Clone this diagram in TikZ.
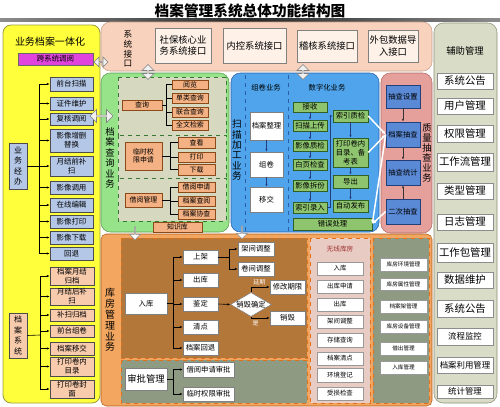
\documentclass[tikz,border=0pt]{standalone}
\usepackage{fontspec}
\setmainfont{Noto Sans CJK SC}
\usetikzlibrary{arrows.meta,shapes.geometric,shapes.arrows}
\lineskiplimit=-100pt
\lineskip=0pt
\definecolor{cYel}{HTML}{FFFF3C}
\definecolor{cYelD}{HTML}{9C9C3C}
\definecolor{cMag}{HTML}{E044DC}
\definecolor{cLB}{HTML}{B4C7E7}
\definecolor{cLO}{HTML}{F8CBAD}
\definecolor{cPeach}{HTML}{F8D2BC}
\definecolor{cPeachD}{HTML}{C8A08C}
\definecolor{cPbox}{HTML}{FDF1E8}
\definecolor{cAux}{HTML}{D9DCC6}
\definecolor{cAuxD}{HTML}{8E9078}
\definecolor{cGreen}{HTML}{96E38A}
\definecolor{cGreenD}{HTML}{5A9A50}
\definecolor{cBeige}{HTML}{D7D8C0}
\definecolor{cDG}{HTML}{3A783A}
\definecolor{cOr}{HTML}{F4B183}
\definecolor{cOrD}{HTML}{8A4A1A}
\definecolor{cBlue}{HTML}{4FA4EC}
\definecolor{cBlueD}{HTML}{2A5FA8}
\definecolor{cGB}{HTML}{8EC46E}
\definecolor{cGBD}{HTML}{2F5F22}
\definecolor{cQ}{HTML}{E6A09C}
\definecolor{cQD}{HTML}{B06A66}
\definecolor{cQB}{HTML}{5A8AD6}
\definecolor{cQBD}{HTML}{223F7A}
\definecolor{cOrg}{HTML}{F2A660}
\definecolor{cDash}{HTML}{E0701C}
\definecolor{cBrown}{HTML}{B4773A}
\definecolor{cGG}{HTML}{8E9A82}
\definecolor{cPink}{HTML}{E8CBC3}
\definecolor{cRed}{HTML}{A03030}
\newcommand{\bx}[7]{\node[#6,minimum width={(#4-#2)*0.75pt},minimum height={(#5-#3)*0.75pt}] (#1) at ({(#2+#4)/2},{(#3+#5)/2}) {#7};}
\tikzset{
 box/.style={draw, inner sep=0pt, align=center, line width=0.4pt, text=black},
 lb/.style={box, fill=cLB, draw=black!70, font=\fontsize{5.6}{6.6}\selectfont},
 lo/.style={box, fill=cLO, draw=black!70, font=\fontsize{5.6}{6.6}\selectfont},
 pb/.style={box, fill=cPbox, draw=black!50, font=\fontsize{7}{8.6}\selectfont},
 ab/.style={box, fill=white, draw=black!45, font=\fontsize{7.8}{9}\selectfont},
 abs/.style={ab, font=\fontsize{6.3}{7.5}\selectfont},
 ob/.style={box, fill=cOr, draw=cOrD, font=\fontsize{5.2}{6.2}\selectfont},
 gb/.style={box, fill=cGB, draw=cGBD, font=\fontsize{5.5}{6.6}\selectfont},
 wb/.style={box, fill=white, draw=black!50, font=\fontsize{5.5}{6.6}\selectfont},
 qb/.style={box, fill=cQB, draw=cQBD, font=\fontsize{5.5}{6.6}\selectfont},
 pkb/.style={box, fill=white, draw=black!40, font=\fontsize{4.8}{5.8}\selectfont},
 gyb/.style={box, fill=white, draw=black!40, font=\fontsize{4.2}{5}\selectfont},
 vt/.style={inner sep=0pt, align=center},
 arr/.style={-{Latex[length=2.2pt,width=1.8pt]}, line width=0.45pt},
 ln/.style={line width=0.45pt},
 warr/.style={white, line width=1.1pt, -{Latex[length=3pt,width=2.6pt]}},
 dbl/.style={double arrow, draw=black!50, fill=black!6, inner sep=0pt, double arrow head extend=1.2pt},
 darr/.style={single arrow, draw=black!45, fill=white, inner sep=0pt, single arrow head extend=1.5pt},
 wlab/.style={text=white, inner sep=0pt, font=\fontsize{4.5}{5}\selectfont}
}
\begin{document}
\begin{tikzpicture}[x=0.75pt,y=-0.75pt]
\useasboundingbox (0,0) rectangle (500,407);
\fill[white] (0,0) rectangle (500,407);
% title
\node[font=\fontsize{11}{13}\selectfont\bfseries] (title) at (250,10.5) {档案管理系统总体功能结构图};
\shade[left color=black!45, right color=black!45, middle color=black!85] (0,18.5) rectangle (500,21.5);
% panels
\draw[cYelD, fill=cYel, rounded corners=6pt, line width=0.6pt] (3,25) rectangle (100,403);
\draw[cPeachD, fill=cPeach, rounded corners=7pt] (101,22) rectangle (432,71);
\draw[cAuxD, fill=cAux, rounded corners=7pt] (434,23) rectangle (497,403);
\draw[cGreenD, fill=cGreen, rounded corners=7pt] (101,73) rectangle (229,232);
\draw[cBlueD, fill=cBlue, rounded corners=7pt] (231,73) rectangle (379,232);
\draw[cQD, fill=cQ, rounded corners=7pt] (381,73) rectangle (432,233);
\draw[cDash!80!black, fill=cOrg, rounded corners=4pt] (101,234) rectangle (432,406);
\draw[cDash, dashed, fill=cBrown] (121,238) rectangle (307,358);
\draw[cDash, dashed, fill=cGG] (121,360) rectangle (307,403);
\draw[cDash, dashed, fill=cPink] (310,238) rectangle (370,403);
\draw[cDash, dashed, fill=cGG] (373,238) rectangle (429,403);
\draw[cDG, dashed, fill=cBeige] (118,77) rectangle (226,135);
\draw[cDG, dashed, fill=cBeige] (118,135) rectangle (226,178);
\draw[cDG, dashed, fill=cBeige] (118,178) rectangle (226,221);
\draw[cBlueD, dashed, line width=0.6pt] (245,75) -- (245,231);
\draw[cBlueD, dashed, line width=0.6pt] (288,75) -- (288,231);

% ---------- left yellow panel
\node[font=\fontsize{7.5}{9}\selectfont] (ytitle) at (50,42) {业务档案一体化};
\bx{kxt}{18}{53}{93}{65}{box, fill=cMag, draw=black!60, font=\fontsize{5.6}{6.6}\selectfont}{跨系统调阅}
\bx{a1}{50}{77}{93}{91}{lb}{前台扫描}
\bx{a2}{50}{97}{93}{110}{lb}{证件维护}
\bx{a3}{50}{113}{93}{125}{lb}{复核调阅}
\bx{a4}{50}{129}{93}{152}{lb}{影像增删\\替换}
\bx{a5}{50}{156}{93}{176}{lb}{月结前补\\扫}
\bx{a6}{50}{181}{93}{194}{lb}{影像调用}
\bx{a7}{50}{198}{93}{212}{lb}{在线编辑}
\bx{a8}{50}{215}{93}{228}{lb}{影像打印}
\bx{a9}{50}{231}{93}{244}{lb}{影像下载}
\bx{a10}{50}{247}{93}{260}{lb}{回退}
\bx{yj}{9}{143}{27}{189}{lb,font=\fontsize{6}{7.8}\selectfont}{业\\务\\经\\办}
\bx{b1}{50}{267}{94}{285}{lo}{档案月结\\归档}
\bx{b2}{50}{288}{94}{305}{lo}{月结后补\\扫}
\bx{b3}{50}{309}{94}{321}{lo}{补扫归档}
\bx{b4}{50}{325}{94}{337}{lo}{前台组卷}
\bx{b5}{50}{342}{94}{355}{lo}{档案移交}
\bx{b6}{50}{357}{94}{376}{lo}{打印卷内\\目录}
\bx{b7}{50}{380}{94}{398}{lo}{打印卷封\\面}
\bx{dx}{9}{313}{27}{358}{lo,font=\fontsize{6}{7.8}\selectfont}{档\\案\\系\\统}
\coordinate (t1) at (39,166);
\draw[ln] (yj.east) -- (t1);
\draw[ln] (t1 |- a1.west) -- (t1 |- a10.west);
\foreach \i in {1,...,10} \draw[arr] (t1 |- a\i.west) -- (a\i.west);
\coordinate (t2) at (40,335);
\draw[ln] (dx.east) -- (t2);
\draw[ln] (t2 |- b1.west) -- (t2 |- b7.west);
\foreach \i in {1,...,7} \draw[arr] (t2 |- b\i.west) -- (b\i.west);

% ---------- top interfaces
\node[vt, font=\fontsize{6.5}{7.2}\selectfont] (xtjk) at (128,49) {系\\统\\接\\口};
\bx{p1}{155}{28}{211}{63}{pb}{社保核心业\\务系统接口}
\bx{p2}{223}{28}{286}{63}{pb}{内控系统接口}
\bx{p3}{297}{30}{357}{62}{pb}{稽核系统接口}
\bx{p4}{368}{30}{418}{62}{pb}{外包数据导\\入接口}

% ---------- right aux panel
\node[font=\fontsize{7}{8}\selectfont] (fz) at (465,51) {辅助管理};
\bx{r1}{437}{73}{493}{89}{ab}{系统公告}
\bx{r2}{437}{98}{493}{114}{ab}{用户管理}
\bx{r3}{437}{125}{493}{142}{ab}{权限管理}
\bx{r4}{437}{153}{493}{171}{ab}{工作流管理}
\bx{r5}{437}{183}{493}{199}{ab}{类型管理}
\bx{r6}{437}{214}{493}{230}{ab}{日志管理}
\bx{r7}{437}{243}{493}{262}{ab}{工作包管理}
\bx{r8}{437}{272}{493}{288}{ab}{数据维护}
\bx{r9}{437}{300}{493}{317}{ab}{系统公告}
\bx{r10}{437}{328}{493}{345}{abs}{流程监控}
\bx{r11}{437}{357}{493}{373}{abs}{档案利用管理}
\bx{r12}{437}{385}{493}{398}{abs}{统计管理}

% ---------- green query panel
\node[vt, font=\fontsize{7}{7.8}\selectfont] (cxyw) at (110,158) {档\\案\\查\\询\\业\\务};
\bx{q0}{122}{100}{162}{110}{ob}{查询}
\bx{q1}{172}{80}{208}{89}{ob}{阅览}
\bx{q2}{172}{93}{208}{103}{ob}{单类查询}
\bx{q3}{172}{107}{208}{117}{ob}{联合查询}
\bx{q4}{172}{120}{208}{130}{ob}{全文检索}
\coordinate (t3) at (166,105);
\draw[ln] (q0.east) -- (t3);
\draw[ln] (t3 |- q1.west) -- (t3 |- q4.west);
\foreach \i in {1,...,4} \draw[ln] (t3 |- q\i.west) -- (q\i.west);
\bx{s0}{125}{142}{162}{170}{ob}{临时权\\限申请}
\bx{s1}{178}{137}{215}{148}{ob}{查看}
\bx{s2}{178}{152}{215}{162}{ob}{打印}
\bx{s3}{178}{164}{215}{175}{ob}{下载}
\coordinate (t4) at (170,156);
\draw[ln] (s0.east) -- (t4);
\draw[ln] (t4 |- s1.west) -- (t4 |- s3.west);
\foreach \i in {1,...,3} \draw[ln] (t4 |- s\i.west) -- (s\i.west);
\bx{u0}{125}{193}{162}{207}{ob}{借阅管理}
\bx{u1}{178}{182}{215}{192}{ob}{借阅申请}
\bx{u2}{178}{196}{215}{206}{ob}{档案查阅}
\bx{u3}{178}{209}{215}{219}{ob}{档案协查}
\coordinate (t5) at (170,200);
\draw[ln] (u0.east) -- (t5);
\draw[ln] (t5 |- u1.west) -- (t5 |- u3.west);
\foreach \i in {1,...,3} \draw[ln] (t5 |- u\i.west) -- (u\i.west);
\bx{zsk}{153}{222}{202}{232}{ob}{知识库}

% ---------- blue scanning panel
\node[vt, font=\fontsize{7.2}{7.8}\selectfont] (smyw) at (237,150) {扫\\描\\加\\工\\业\\务};
\node[font=\fontsize{5.5}{6}\selectfont] (zjyw) at (266,88) {组卷业务};
\node[font=\fontsize{5.5}{6}\selectfont] (szyw) at (327,88) {数字化业务};
\bx{z1}{250}{112}{283}{140}{wb}{档案整理}
\bx{z2}{250}{152}{283}{177}{wb}{组卷}
\bx{z3}{250}{187}{283}{212}{wb}{移交}
\draw[arr, cQBD] (z1) -- (z2);
\draw[arr, cQBD] (z2) -- (z3);
\bx{g1}{293}{102}{327}{112}{gb}{接收}
\bx{g2}{293}{120}{327}{131}{gb}{扫描上传}
\bx{g3}{293}{140}{327}{151}{gb}{影像质检}
\bx{g4}{293}{159}{327}{170}{gb}{白页检查}
\bx{g5}{293}{180}{327}{191}{gb}{影像拆份}
\bx{g6}{293}{202}{327}{213}{gb}{索引录入}
\foreach \i/\j in {1/2,2/3,3/4,4/5,5/6} \draw[arr, cQBD] (g\i) -- (g\j);
\bx{h1}{333}{110}{368}{122}{gb}{索引质检}
\bx{h2}{333}{138}{368}{167}{gb}{打印卷内\\目录、备\\考表}
\bx{h3}{333}{175}{368}{188}{gb}{导出}
\bx{h4}{333}{200}{368}{212}{gb}{自动发布}
\foreach \i/\j in {1/2,2/3,3/4} \draw[arr, cQBD] (h\i) -- (h\j);
\coordinate (t6) at (330,207.5);
\draw[ln, cQBD] (g6.east) -- (t6);
\draw[arr, cQBD] (t6) -- (t6 |- h1.west) -- (h1.west);
\bx{cw}{293}{218}{372}{230}{gb}{错误处理}

% ---------- quality panel
\bx{k1}{386}{85}{420}{108}{qb}{抽查设置}
\bx{k2}{386}{122}{420}{147}{qb}{档案抽查}
\bx{k3}{386}{160}{420}{185}{qb}{抽查统计}
\bx{k4}{386}{199}{420}{224}{qb}{二次抽查}
\node[vt, font=\fontsize{7}{7.6}\selectfont] (zlcc) at (427,153) {质\\量\\抽\\查\\业\\务};
\draw[arr, black!80] (k1) -- (k2);
\draw[arr, black!80] (k2) -- (k3);
\draw[arr, black!80] (k4) -- (k3);
\draw[warr] (h1.east) -- (k2.west);
\draw[warr] (h2.east) -- (k2.west);
\draw[warr] (k2.west) -- (cw.east);
\draw[warr] (k4.west) -- (cw.east);

% ---------- double arrows
\node[dbl, minimum height=14*0.75pt, minimum width=10*0.75pt] (da1) at (101,62) {};
\node[dbl, rotate=90, minimum height=15*0.75pt, minimum width=12*0.75pt] (da2) at (148,72) {};
\node[dbl, rotate=90, minimum height=15*0.75pt, minimum width=12*0.75pt] (da3) at (303,72) {};
\node[dbl, minimum height=23*0.75pt, minimum width=13*0.75pt] (da4) at (101.5,116) {};
\node[darr, rotate=-90, minimum height=13*0.75pt, minimum width=11*0.75pt] (dn1) at (135,233) {};
\node[darr, rotate=-90, minimum height=13*0.75pt, minimum width=11*0.75pt] (dn2) at (242,232) {};

% ---------- warehouse
\node[vt, font=\fontsize{7.5}{8.1}\selectfont] (kfyw) at (110,320) {库\\房\\管\\理\\业\\务};
\bx{w0}{125}{293}{167}{314}{wb}{入库}
\bx{w1}{183}{250}{218}{264}{wb}{上架}
\bx{w2}{183}{273}{218}{287}{wb}{出库}
\bx{w3}{183}{297}{218}{311}{wb}{鉴定}
\bx{w4}{183}{320}{218}{334}{wb}{清点}
\bx{w5}{183}{341}{218}{355}{wb}{档案回退}
\coordinate (t7) at (173,303.5);
\draw[ln] (w0.east) -- (t7);
\draw[ln] (t7 |- w1.west) -- (t7 |- w5.west);
\foreach \i in {1,...,5} \draw[arr] (t7 |- w\i.west) -- (w\i.west);
\bx{x1}{238}{242}{274}{256}{wb}{架间调整}
\bx{x2}{238}{262}{274}{276}{wb}{卷间调整}
\coordinate (t8) at (229,257);
\draw[ln] (w1.east) -- (t8);
\draw[ln] (t8 |- x1.west) -- (t8 |- x2.west);
\foreach \i in {1,2} \draw[arr] (t8 |- x\i.west) -- (x\i.west);
\node[diamond, draw=black!50, fill=white, aspect=1.7, inner sep=0pt, font=\fontsize{5.5}{6}\selectfont] (xh) at (251,304.5) {销毁确定};
\draw[arr] (w3.east) -- (xh.west);
\bx{y1}{270}{280}{305}{294}{wb}{修改期限}
\bx{y2}{270}{311}{305}{325}{wb}{销毁}
\draw[arr] (xh.north) -- (xh.north |- y1.west) -- (y1.west) node[wlab, pos=0.45, above=1pt] {延期};
\draw[arr] (xh.south) -- (xh.south |- y2.west) -- (y2.west) node[wlab, pos=0.25, below=1.5pt] {是};
\bx{v0}{125}{368}{167}{390}{wb,font=\fontsize{7}{8}\selectfont}{审批管理}
\bx{v1}{183}{362}{234}{377}{wb}{借阅申请审批}
\bx{v2}{183}{387}{234}{401}{wb}{临时权限审批}
\coordinate (t9) at (173,379);
\draw[ln] (v0.east) -- (t9);
\draw[ln] (t9 |- v1.west) -- (t9 |- v2.west);
\foreach \i in {1,2} \draw[arr] (t9 |- v\i.west) -- (v\i.west);
% wireless warehouse
\node[text=cRed, font=\fontsize{5}{6}\selectfont] (wxkf) at (340,249) {无线库房};
\bx{m1}{317}{262}{363}{275}{pkb}{入库}
\bx{m2}{317}{280}{363}{293}{pkb}{出库申请}
\bx{m3}{317}{298}{363}{311}{pkb}{出库}
\bx{m4}{317}{315}{363}{328}{pkb}{架间调整}
\bx{m5}{317}{333}{363}{347}{pkb}{存储查询}
\bx{m6}{317}{352}{363}{365}{pkb}{档案清点}
\bx{m7}{317}{368}{363}{382}{pkb}{环境登记}
\bx{m8}{317}{387}{363}{400}{pkb}{受损检查}
% right gray
\bx{n1}{380}{258}{427}{271}{gyb}{库房环境管理}
\bx{n2}{380}{278}{427}{290}{gyb}{库房属性管理}
\bx{n3}{380}{300}{427}{313}{gyb}{档案架管理}
\bx{n4}{380}{320}{427}{333}{gyb}{库房设备管理}
\bx{n5}{380}{342}{427}{355}{gyb}{借出管理}
\bx{n6}{380}{361}{427}{374}{gyb}{入库管理}
\end{tikzpicture}
\end{document}
